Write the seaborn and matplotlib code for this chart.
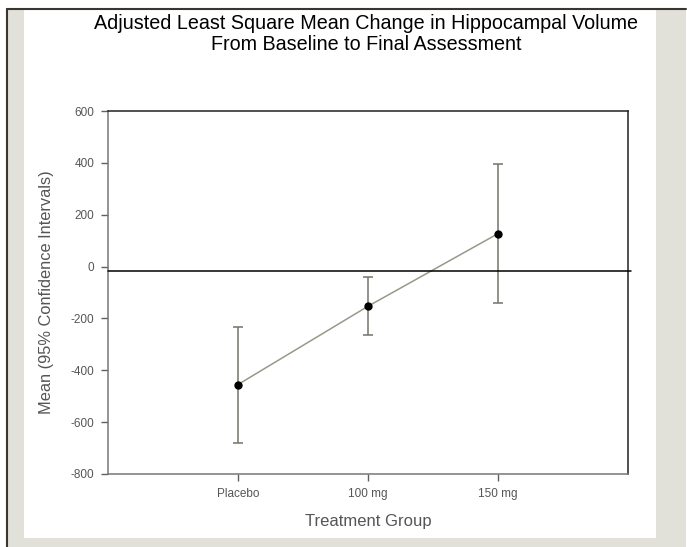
import matplotlib
matplotlib.use("Agg")
import matplotlib.pyplot as plt
import matplotlib.patches as mpatches
import matplotlib.lines as mlines
import seaborn as sns
import pandas as pd
import numpy as np

groups = ["Placebo", "100 mg", "150 mg"]
means = [-455, -153, 127]
ci_lower = [-682, -265, -140]
ci_upper = [-233, -41, 396]
ref_line = -18
yticks = [600, 400, 200, 0, -200, -400, -600, -800]

df = pd.DataFrame({"group": groups, "mean": means, "lo": ci_lower, "hi": ci_upper})
df["pos"] = np.arange(len(groups))

sns.set_theme(style="white")
plt.rcParams["font.family"] = ["Liberation Sans", "DejaVu Sans"]

W, H = 687, 547
fig = plt.figure(figsize=(W / 100, H / 100), dpi=100)
fig.patch.set_facecolor("white")

grey = "#e1e1d9"
# outer grey frame and white panel
fig.add_artist(mpatches.Rectangle((8 / W, 0), (686 - 8) / W, 1 - 10 / H, transform=fig.transFigure,
                                  facecolor=grey, edgecolor="none", zorder=-3))
fig.add_artist(mpatches.Rectangle((24 / W, 1 - 538 / H), (656 - 24) / W, (538 - 10) / H,
                                  transform=fig.transFigure, facecolor="white", edgecolor="none", zorder=-2))
fig.add_artist(mlines.Line2D([7 / W, 686 / W], [1 - 9 / H, 1 - 9 / H], transform=fig.transFigure,
                             color="#3a3530", lw=1.5))
fig.add_artist(mlines.Line2D([7 / W, 7 / W], [0, 1 - 9 / H], transform=fig.transFigure,
                             color="#3a3530", lw=1.5))

ax = fig.add_axes([108 / W, 1 - 474 / H, (628 - 108) / W, (474 - 111) / H])
ax.set_facecolor("white")

err_lo = df["mean"] - df["lo"]
err_hi = df["hi"] - df["mean"]
ax.errorbar(df["pos"], df["mean"], yerr=[err_lo, err_hi], fmt="none",
            ecolor="#74746a", elinewidth=1.1, capsize=3.8, capthick=1.1, zorder=2)
sns.lineplot(data=df, x="pos", y="mean", ax=ax, color="#98988a", lw=1.1, zorder=3,
             sort=False)
sns.scatterplot(data=df, x="pos", y="mean", ax=ax, color="black", s=36, zorder=4,
                edgecolor="black", linewidth=0)
ax.axhline(ref_line, color="black", lw=1.1, zorder=3, xmax=1.005, clip_on=False)

ax.set_xlim(-1, 3)
ax.set_ylim(-800, 600)
ax.set_xticks(df["pos"])
ax.set_xticklabels(groups)
ax.set_yticks(yticks)
ax.set_yticklabels([str(v) for v in yticks])
ax.tick_params(axis="both", which="both", direction="out", length=5, width=1,
               color="#606060", labelsize=8.5, labelcolor="#555555", pad=5,
               left=True, bottom=True)
for side in ["left", "bottom"]:
    ax.spines[side].set_color("#777777")
    ax.spines[side].set_linewidth(1.1)
for side in ["right", "top"]:
    ax.spines[side].set_color("#222222")
    ax.spines[side].set_linewidth(1.1)

ax.set_xlabel("Treatment Group", fontsize=12, color="#555555", labelpad=10)
ax.set_ylabel("Mean (95% Confidence Intervals)", fontsize=11.8, color="#555555", labelpad=12)

fig.text(366 / W, 1 - 34 / H,
         "Adjusted Least Square Mean Change in Hippocampal Volume\nFrom Baseline to Final Assessment",
         ha="center", va="center", fontsize=14.2, color="black", linespacing=1.15)

fig.savefig("out.png", dpi=100)
